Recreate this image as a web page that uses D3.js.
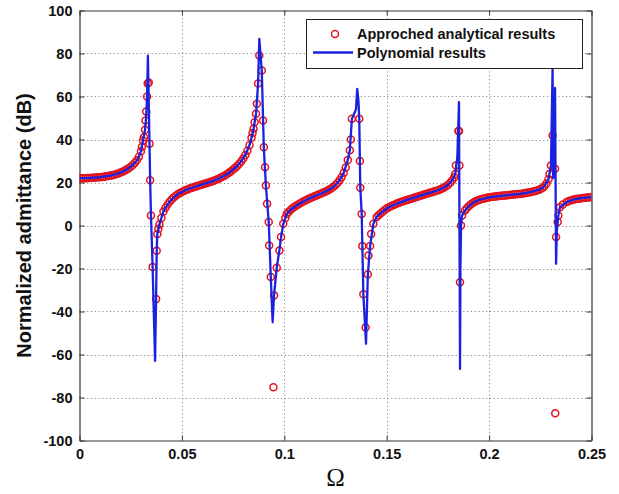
<!DOCTYPE html>
<html>
<head>
<meta charset="utf-8">
<script src="https://cdn.jsdelivr.net/npm/d3@7"></script>
<style>
  html, body { margin: 0; padding: 0; background: #fff; }
  svg { display: block; }
</style>
</head>
<body>
<svg id="chart" width="619" height="494"></svg>
<script>
// ---------- DATA ----------
const xTickValues = [0, 0.05, 0.1, 0.15, 0.2, 0.25];
const xTickLabels = ["0", "0.05", "0.1", "0.15", "0.2", "0.25"];
const yTickValues = [-100, -80, -60, -40, -20, 0, 20, 40, 60, 80, 100];
const yTickLabels = ["-100", "-80", "-60", "-40", "-20", "0", "20", "40", "60", "80", "100"];
const seriesNames = ["Approched analytical results", "Polynomial results"];

// Approached analytical results: [Omega, dB]
const analyticBranch1 = [
  [0.000,22.0],[0.001,22.0],[0.002,22.0],[0.003,22.0],[0.004,22.1],[0.005,22.1],[0.006,22.2],[0.007,22.2],
  [0.008,22.3],[0.009,22.4],[0.010,22.5],[0.011,22.6],[0.012,22.7],[0.013,22.9],[0.014,23.0],[0.015,23.2],
  [0.016,23.4],[0.017,23.6],[0.018,23.9],[0.019,24.2],[0.020,24.6],[0.021,25.0],[0.022,25.5],[0.023,26.0],
  [0.024,26.6],[0.025,27.3],[0.026,28.1],[0.027,29.1],[0.028,30.3],[0.029,32.0],[0.030,34.5],[0.0305,36.5],
  [0.031,39.5],[0.0315,41.0],[0.032,44.5],[0.0322,48.8],[0.0326,53.0],[0.0330,60.0],[0.0333,66.0],[0.0338,66.5],
  [0.0342,38.0],[0.0345,21.0],[0.0349,4.6],[0.0357,-19.3]
];
const analyticBranch2 = [
  [0.0374,-34.2],[0.0377,-11.7],[0.0380,-3.9],[0.0385,-1.5],[0.039,0.5],[0.040,3.5],[0.041,6.5],[0.042,8.3],
  [0.043,9.8],[0.044,11.0],[0.045,12.1],[0.046,13.0],[0.047,13.8],[0.048,14.5],[0.049,15.1],[0.050,15.6],
  [0.051,16.1],[0.052,16.5],[0.053,16.9],[0.054,17.3],[0.055,17.6],[0.056,17.9],[0.057,18.2],[0.058,18.5],
  [0.059,18.8],[0.060,19.1],[0.061,19.4],[0.062,19.7],[0.063,20.0],[0.064,20.3],[0.065,20.6],[0.066,21.0],
  [0.067,21.4],[0.068,21.8],[0.069,22.3],[0.070,22.8],[0.071,23.3],[0.072,23.9],[0.073,24.5],[0.074,25.2],
  [0.075,26.0],[0.076,26.8],[0.077,27.7],[0.078,28.7],[0.079,29.9],[0.080,31.2],[0.081,32.8],[0.082,34.8],
  [0.083,37.3],[0.084,40.8],[0.0845,43.0],[0.085,45.0],[0.0855,48.0],[0.0862,52.0],[0.0866,56.6],[0.0872,66.0],
  [0.0878,79.1],[0.0890,72.1],[0.0896,48.8],[0.0900,36.4],[0.0906,27.1],[0.0910,18.6],[0.0916,10.1],[0.0924,1.6],
  [0.0926,-9.3],[0.0934,-24.0],[0.0947,-75.2],[0.0950,-32.5]
];
const analyticBranch3 = [
  [0.0963,-19.6],[0.0976,-11.6],[0.0984,-5.4],[0.0995,0.8],[0.1005,3.5],[0.1012,5.4],[0.102,6.3],[0.103,7.2],
  [0.104,8.0],[0.105,8.7],[0.106,9.3],[0.107,9.9],[0.108,10.5],[0.109,11.0],[0.110,11.5],[0.111,12.0],
  [0.112,12.4],[0.113,12.9],[0.114,13.3],[0.115,13.7],[0.116,14.1],[0.117,14.5],[0.118,14.9],[0.119,15.3],
  [0.120,15.7],[0.121,16.2],[0.122,16.7],[0.123,17.3],[0.124,18.0],[0.125,18.8],[0.126,19.8],[0.127,21.0],
  [0.128,22.5],[0.129,24.5],[0.130,27.0],[0.131,30.5],[0.132,35.0],[0.1325,40.0],[0.1330,49.6],
  [0.1366,49.6],[0.1369,30.0],[0.1371,17.6],[0.1378,5.3],[0.1381,-9.5],[0.1386,-32.0],[0.1397,-47.4]
];
const analyticBranch4 = [
  [0.1408,-22.7],[0.1411,-14.0],[0.1419,-9.5],[0.1424,-4.0],[0.1435,0.8],[0.1451,4.0],[0.146,4.8],[0.147,5.6],
  [0.148,6.4],[0.149,7.2],[0.150,7.9],[0.151,8.5],[0.152,9.0],[0.153,9.4],[0.154,9.8],[0.155,10.2],
  [0.156,10.6],[0.157,10.9],[0.158,11.3],[0.159,11.6],[0.160,11.9],[0.161,12.2],[0.162,12.5],[0.163,12.8],
  [0.164,13.1],[0.165,13.4],[0.166,13.7],[0.167,14.0],[0.168,14.3],[0.169,14.6],[0.170,14.9],[0.171,15.2],
  [0.172,15.5],[0.173,15.8],[0.174,16.1],[0.175,16.4],[0.176,16.8],[0.177,17.2],[0.178,17.7],[0.179,18.3],
  [0.180,19.0],[0.181,19.9],[0.182,21.0],[0.183,22.5],[0.1835,24.0],[0.1838,27.9],[0.1850,44.0],[0.1853,44.0],
  [0.1855,27.9],[0.1858,-26.4],[0.1863,0.0],[0.1868,4.6]
];
const analyticBranch5 = [
  [0.1882,7.0],[0.189,7.9],[0.190,9.0],[0.191,9.8],[0.192,10.5],[0.193,11.0],[0.194,11.5],[0.195,11.9],
  [0.196,12.2],[0.197,12.5],[0.198,12.7],[0.199,12.9],[0.200,13.1],[0.201,13.3],[0.202,13.4],[0.203,13.5],
  [0.204,13.6],[0.205,13.7],[0.206,13.8],[0.207,13.9],[0.208,14.0],[0.209,14.1],[0.210,14.2],[0.211,14.3],
  [0.212,14.4],[0.213,14.5],[0.214,14.6],[0.215,14.7],[0.216,14.8],[0.217,15.0],[0.218,15.1],[0.219,15.3],
  [0.220,15.5],[0.221,15.7],[0.222,15.9],[0.223,16.2],[0.224,16.5],[0.225,16.9],[0.226,17.5],[0.227,18.3],
  [0.228,19.5],[0.229,21.5],[0.2295,24.0],[0.2302,27.9],[0.2310,41.9],[0.2322,26.4],[0.2323,-87.3],[0.2327,-5.4],
  [0.2335,1.6],[0.2338,4.6],[0.2346,8.5],[0.236,9.8],[0.2379,10.9],[0.239,11.4],[0.240,11.7],[0.241,12.0],
  [0.242,12.2],[0.243,12.4],[0.244,12.5],[0.245,12.7],[0.246,12.8],[0.247,12.9],[0.248,13.0],[0.249,13.1],
  [0.250,13.2]
];

// Polynomial results: [Omega, dB]
const polynomialPoints = [
  [0,22.0],[0.005,22.1],[0.010,22.5],[0.015,23.2],[0.018,23.9],[0.021,25.0],[0.023,26.0],[0.025,27.3],
  [0.027,29.1],[0.028,30.3],[0.029,32.0],[0.030,34.5],[0.031,39.5],[0.032,44.5],[0.0325,50.0],[0.0330,60.0],
  [0.0334,79.0],[0.0345,21.0],[0.0349,4.6],[0.0357,-19.3],[0.0369,-63.0],[0.0374,-34.2],[0.0377,-11.7],
  [0.0380,-3.9],[0.039,0.5],[0.040,3.5],[0.041,6.5],[0.042,8.3],[0.044,11.0],[0.046,13.0],[0.048,14.5],
  [0.050,15.6],[0.053,16.9],[0.056,17.9],[0.060,19.1],[0.064,20.3],[0.067,21.4],[0.070,22.8],[0.073,24.5],
  [0.075,26.0],[0.077,27.7],[0.079,29.9],[0.081,32.8],[0.083,37.3],[0.084,40.8],[0.085,45.0],[0.0862,52.0],
  [0.0872,66.0],[0.0878,86.8],[0.0890,72.1],[0.0900,36.4],[0.0910,18.6],[0.0924,1.6],[0.0934,-24.0],
  [0.0943,-45.0],[0.0950,-32.5],[0.0963,-19.6],[0.0976,-11.6],[0.0984,-5.4],[0.0995,0.8],[0.1012,5.4],
  [0.103,7.2],[0.106,9.3],[0.110,11.5],[0.114,13.3],[0.118,14.9],[0.121,16.2],[0.123,17.3],[0.125,18.8],
  [0.127,21.0],[0.129,24.5],[0.131,30.5],[0.132,35.0],[0.133,49.6],[0.1350,54.0],[0.1356,63.5],[0.1362,58.0],
  [0.1366,49.6],[0.1371,17.6],[0.1378,5.3],[0.1386,-32.0],[0.1399,-55.0],[0.1408,-22.7],[0.1419,-9.5],
  [0.1435,0.8],[0.1451,4.0],
  [0.148,6.4],[0.151,8.5],[0.155,10.2],[0.160,11.9],[0.165,13.4],[0.170,14.9],[0.175,16.4],[0.178,17.7],
  [0.180,19.0],[0.182,21.0],[0.1835,24.0],[0.1845,32.0],[0.1853,57.4],[0.1858,-66.7],[0.1860,-20.0],
  [0.1863,0.0],[0.1868,4.6],[0.1882,7.0],[0.190,9.0],[0.192,10.5],[0.195,11.9],[0.200,13.1],[0.205,13.7],
  [0.210,14.2],[0.215,14.7],[0.220,15.5],[0.223,16.2],[0.225,16.9],[0.227,18.3],[0.229,21.5],[0.2302,27.9],
  [0.2310,73.0],[0.2313,22.0],[0.2322,64.0],[0.2327,-17.8],[0.2331,-2.0],[0.2338,4.6],[0.2346,8.5],
  [0.2379,10.9],[0.241,12.0],[0.245,12.7],[0.250,13.2]
];

// ---------- CHART ----------
const plot = { left: 79.5, right: 591.5, top: 10.5, bottom: 440.5 };
const svg = d3.select("#chart");
const x = d3.scaleLinear().domain([0, 0.25]).range([plot.left, plot.right]);
const y = d3.scaleLinear().domain([-100, 100]).range([plot.bottom, plot.top]);

const FONT = "'Liberation Sans', Arial, sans-serif";
const axisColor = "#333";

svg.append("rect").attr("x", plot.left).attr("y", plot.top)
  .attr("width", plot.right - plot.left).attr("height", plot.bottom - plot.top)
  .attr("fill", "#fff");

// grid
const grid = svg.append("g").attr("stroke", "#8a8a8a").attr("stroke-width", 1)
  .attr("stroke-dasharray", "1.2,2.6").attr("fill", "none");
grid.selectAll("line.gx").data(xTickValues.slice(1, -1)).join("line").attr("class", "gx")
  .attr("x1", d => Math.round(x(d)) + 0.5).attr("x2", d => Math.round(x(d)) + 0.5)
  .attr("y1", plot.top).attr("y2", plot.bottom);
grid.selectAll("line.gy").data(yTickValues.slice(1, -1)).join("line").attr("class", "gy")
  .attr("y1", d => Math.round(y(d)) + 0.5).attr("y2", d => Math.round(y(d)) + 0.5)
  .attr("x1", plot.left).attr("x2", plot.right);

function styleAxis(g) {
  g.select(".domain").attr("stroke", axisColor).attr("stroke-width", 1.2);
  g.selectAll(".tick line").attr("stroke", axisColor).attr("stroke-width", 1);
  g.selectAll(".tick text").attr("fill", "#111").attr("font-family", FONT)
    .attr("font-size", 14.5).attr("font-weight", "bold");
}
const xFmt = d => xTickLabels[xTickValues.indexOf(d)];
const yFmt = d => yTickLabels[yTickValues.indexOf(d)];

svg.append("g").attr("transform", `translate(0,${plot.bottom})`)
  .call(d3.axisBottom(x).tickValues(xTickValues).tickFormat(xFmt).tickSizeInner(-5).tickSizeOuter(0).tickPadding(8))
  .call(styleAxis);
svg.append("g").attr("transform", `translate(0,${plot.top})`)
  .call(d3.axisTop(x).tickValues(xTickValues).tickFormat("").tickSizeInner(-5).tickSizeOuter(0))
  .call(styleAxis);
svg.append("g").attr("transform", `translate(${plot.left},0)`)
  .call(d3.axisLeft(y).tickValues(yTickValues).tickFormat(yFmt).tickSizeInner(-5).tickSizeOuter(0).tickPadding(7))
  .call(styleAxis);
svg.append("g").attr("transform", `translate(${plot.right},0)`)
  .call(d3.axisRight(y).tickValues(yTickValues).tickFormat("").tickSizeInner(-5).tickSizeOuter(0))
  .call(styleAxis);

svg.append("clipPath").attr("id", "clip").append("rect")
  .attr("x", plot.left).attr("y", plot.top)
  .attr("width", plot.right - plot.left).attr("height", plot.bottom - plot.top);

const RED = "#e3131b";
const BLUE = "#1a22e0";

const analyticAll = [].concat(analyticBranch1, analyticBranch2, analyticBranch3, analyticBranch4, analyticBranch5);
svg.append("g").attr("clip-path", "url(#clip)")
  .selectAll("circle").data(analyticAll).join("circle")
  .attr("cx", d => x(d[0])).attr("cy", d => y(d[1])).attr("r", 3.5)
  .attr("fill", "none").attr("stroke", RED).attr("stroke-width", 1.5);

const line = d3.line().x(d => x(d[0])).y(d => y(d[1]));
svg.append("path").attr("clip-path", "url(#clip)").datum(polynomialPoints)
  .attr("d", line).attr("fill", "none").attr("stroke", BLUE).attr("stroke-width", 2.3)
  .attr("stroke-linejoin", "round");

// legend
const lg = svg.append("g");
lg.append("rect").attr("x", 306.5).attr("y", 19.5).attr("width", 276).attr("height", 49)
  .attr("fill", "#fff").attr("stroke", "#222").attr("stroke-width", 1);
lg.append("circle").attr("cx", 335).attr("cy", 34).attr("r", 3.5)
  .attr("fill", "none").attr("stroke", RED).attr("stroke-width", 1.5);
lg.append("line").attr("x1", 313).attr("x2", 353).attr("y1", 52.5).attr("y2", 52.5)
  .attr("stroke", BLUE).attr("stroke-width", 2.3);
lg.selectAll("text").data(seriesNames).join("text")
  .attr("x", 357).attr("y", (d, i) => 39 + i * 19)
  .attr("font-family", FONT).attr("font-size", 14.5).attr("font-weight", "bold").attr("fill", "#111")
  .text(d => d);

// axis titles
svg.append("text").attr("transform", `translate(31,${(plot.top + plot.bottom) / 2}) rotate(-90)`)
  .attr("text-anchor", "middle").attr("font-family", FONT).attr("font-size", 20)
  .attr("font-weight", "bold").attr("fill", "#111").text("Normalized admittance (dB)");
svg.append("text").attr("x", (plot.left + plot.right) / 2).attr("y", 486)
  .attr("text-anchor", "middle").attr("font-family", "'Liberation Serif', 'Times New Roman', serif")
  .attr("font-size", 25).attr("fill", "#111").text("Ω");
</script>
</body>
</html>
